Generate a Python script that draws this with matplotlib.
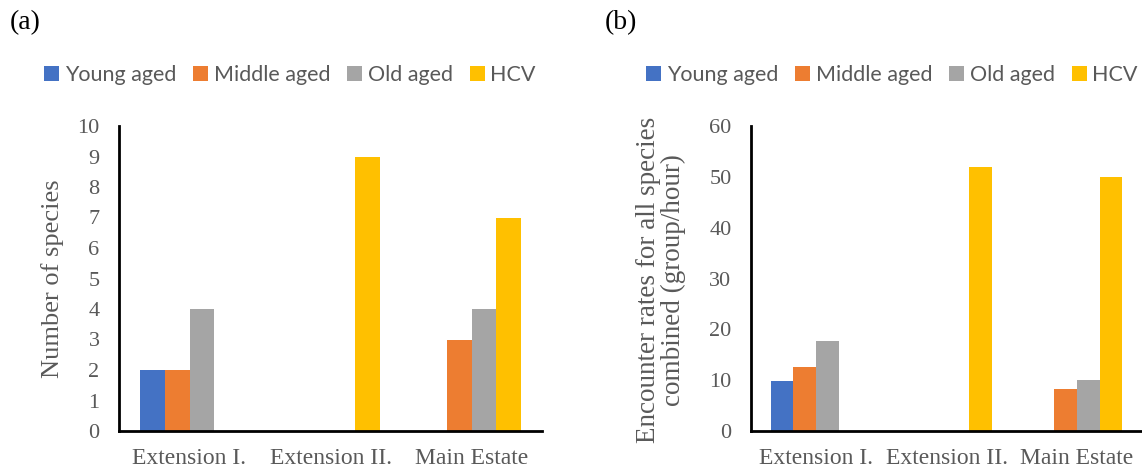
import matplotlib
matplotlib.use("Agg")
import matplotlib.pyplot as plt
from matplotlib.patches import Patch
import numpy as np

categories = ["Extension I.", "Extension II.", "Main Estate"]
series = ["Young aged", "Middle aged", "Old aged", "HCV"]
colors = ["#4472C4", "#ED7D31", "#A5A5A5", "#FFC000"]

species_young = [2, 0, 0]
species_middle = [2, 0, 3]
species_old = [4, 0, 4]
species_hcv = [0, 9, 7]

rate_young = [9.8, 0, 0]
rate_middle = [12.5, 0, 8.3]
rate_old = [17.7, 0, 10.0]
rate_hcv = [0, 52, 50]

serif = ["Liberation Serif", "DejaVu Serif"]
sans = ["Lato", "DejaVu Sans"]
txt = "#595959"

fig = plt.figure(figsize=(11.42, 4.72), dpi=100)
ax_a = fig.add_axes([119/1142, 1-431/472, 423/1142, 305/472])
ax_b = fig.add_axes([751/1142, 1-431/472, 391/1142, 305/472])

def draw(ax, data, ymax, step, xsize, ysize):
    x = np.arange(len(categories))
    w = 0.175
    for i, (vals, c) in enumerate(zip(data, colors)):
        ax.bar(x + (i - 1.5) * w, vals, width=w, color=c, edgecolor="none")
    ax.set_xlim(-0.5, 2.5)
    ax.set_ylim(0, ymax)
    ax.set_yticks(np.arange(0, ymax + step / 2, step))
    ax.set_xticks(x)
    ax.set_xticklabels(categories, fontfamily=serif, fontsize=xsize, color=txt)
    for lab in ax.get_yticklabels():
        lab.set_fontfamily(serif)
        lab.set_fontsize(ysize)
        lab.set_color(txt)
    ax.tick_params(axis="both", length=0)
    ax.tick_params(axis="y", pad=14)
    ax.tick_params(axis="x", pad=12)
    for s in ["top", "right"]:
        ax.spines[s].set_visible(False)
    for s in ["left", "bottom"]:
        ax.spines[s].set_linewidth(2)
        ax.spines[s].set_color("black")

draw(ax_a, [species_young, species_middle, species_old, species_hcv], 10, 1, 17, 16)
draw(ax_b, [rate_young, rate_middle, rate_old, rate_hcv], 60, 10, 17, 16)

fig.text(53/1142, 1-279/472, "Number of species", rotation=90, ha="center", va="center",
         fontfamily=serif, fontsize=19, color=txt)
fig.text(661/1142, 1-280/472, "Encounter rates for all species\ncombined (group/hour)",
         rotation=90, ha="center", va="center", multialignment="center",
         fontfamily=serif, fontsize=19.5, color=txt, linespacing=1.0)

fig.text(10/1142, 1-23/472, "(a)", fontfamily=serif, fontsize=20, va="center", ha="left")
fig.text(605/1142, 1-23/472, "(b)", fontfamily=serif, fontsize=20, va="center", ha="left")

handles = [Patch(facecolor=c, edgecolor="none", label=s) for s, c in zip(series, colors)]
for cx in [290, 892]:
    leg = fig.legend(handles=handles, loc="center", bbox_to_anchor=(cx/1142, 1-75/472),
                     ncol=4, frameon=False, handlelength=0.7, handleheight=0.65,
                     handletextpad=0.25, columnspacing=0.8, borderpad=0, borderaxespad=0,
                     prop={"family": sans, "size": 15.5})
    for t in leg.get_texts():
        t.set_color(txt)

fig.savefig("out.png", dpi=100)
